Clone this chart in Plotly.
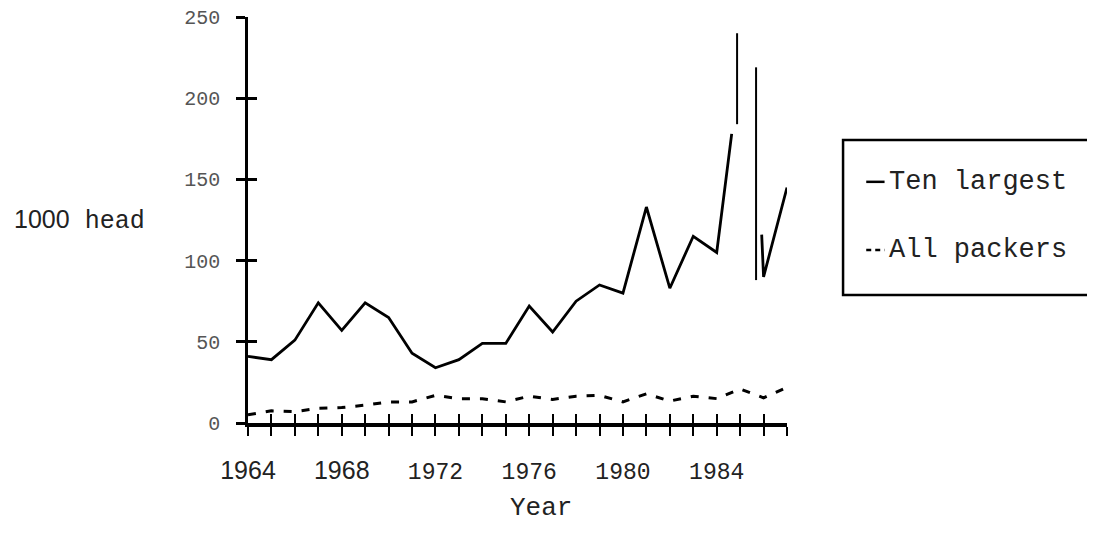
import plotly.graph_objects as go

# ---------------- data ----------------
years = list(range(1964, 1988))
series_names = ["Ten largest", "All packers"]

# Ten largest packers (1000 head); the original trace is broken near 1985
ten_largest_x = [1964, 1965, 1966, 1967, 1968, 1969, 1970, 1971, 1972, 1973,
                 1974, 1975, 1976, 1977, 1978, 1979, 1980, 1981, 1982, 1983,
                 1984, 1984.64, None, 1985.92, 1986, 1987]
ten_largest_y = [41, 39, 51, 74, 57, 74, 65, 43, 34, 39,
                 49, 49, 72, 56, 75, 85, 80, 133, 83, 115,
                 105, 178, None, 116, 90, 145]

# All packers (1000 head)
all_packers = [5, 7.5, 7, 9, 9.5, 11, 13, 13, 17, 15,
               15, 13, 16.5, 14.5, 16.5, 17, 13, 18, 13.5, 16.5,
               15, 21, 15.5, 22]

# vertical strokes visible in the scanned original near 1985
scan_x = [1984.87, 1984.87, None, 1985.68, 1985.68]
scan_y = [240, 184, None, 219, 88]

x_label_years = [1964, 1968, 1972, 1976, 1980, 1984]
sans_label_years = [1964, 1968]
y_ticks = [0, 50, 100, 150, 200, 250]
y_title_num = "1000"
y_title_unit = "head"
x_title = "Year"

# ---------------- styling ----------------
MONO = "Liberation Mono"
SANS = "Liberation Sans"

def xlabel(y):
    if y in sans_label_years:
        return f'<span style="font-family:{SANS};font-size:25px">{y}</span>'
    if y in x_label_years:
        return str(y)
    return ""

fig = go.Figure()

fig.add_trace(go.Scatter(
    x=ten_largest_x, y=ten_largest_y, mode="lines", name=series_names[0],
    line=dict(color="black", width=2.8), connectgaps=False, showlegend=False))
fig.add_trace(go.Scatter(
    x=years, y=all_packers, mode="lines", name=series_names[1],
    line=dict(color="black", width=3, dash="8px,10px"), showlegend=False))
fig.add_trace(go.Scatter(
    x=scan_x, y=scan_y, mode="lines", line=dict(color="black", width=2),
    connectgaps=False, showlegend=False, hoverinfo="skip"))
# carrier for the overlaid (inside-tick) axes
fig.add_trace(go.Scatter(
    x=[years[0]], y=[0], xaxis="x2", yaxis="y2", mode="lines",
    line=dict(width=0), showlegend=False, hoverinfo="skip"))

xr = [years[0], years[-1]]
yr = [0, 250]

fig.update_layout(
    width=1095, height=534,
    margin=dict(l=240, r=316, t=9, b=119),
    paper_bgcolor="white", plot_bgcolor="white",
    showlegend=False,
    xaxis=dict(range=xr, showgrid=False, zeroline=False, automargin=False,
               showline=True, linecolor="black", linewidth=3.5,
               ticks="outside", ticklen=9, tickwidth=2, tickcolor="black",
               tickmode="array", tickvals=years,
               ticktext=[xlabel(y) for y in years],
               ticklabelstandoff=16, ticklabeloverflow="allow",
               tickfont=dict(family=MONO, size=23, color="#222")),
    xaxis2=dict(range=xr, overlaying="x", anchor="y", showgrid=False,
                zeroline=False, showline=False, automargin=False,
                ticks="inside", ticklen=9, tickwidth=2, tickcolor="black",
                tickmode="array", tickvals=years, showticklabels=False),
    yaxis=dict(range=yr, showgrid=False, zeroline=False, automargin=False,
               showline=True, linecolor="black", linewidth=2.5,
               ticks="outside", ticklen=9, tickwidth=2.5, tickcolor="black",
               tickmode="array", tickvals=y_ticks,
               ticktext=[str(v) for v in y_ticks],
               ticklabelstandoff=12, ticklabeloverflow="allow",
               tickfont=dict(family=MONO, size=20, color="#555")),
    yaxis2=dict(range=yr, overlaying="y", anchor="x", showgrid=False,
                zeroline=False, showline=False, automargin=False,
                ticks="inside", ticklen=9, tickwidth=2.5, tickcolor="black",
                tickmode="array", tickvals=y_ticks, showticklabels=False),
)

# axis titles
fig.add_annotation(
    xref="paper", yref="paper", x=0.5436, y=-0.21, xanchor="center",
    yanchor="middle", showarrow=False, text=x_title,
    font=dict(family=MONO, size=26, color="#222"))
fig.add_annotation(
    xref="paper", yref="paper", x=-0.438, y=0.5, xanchor="left",
    yanchor="middle", showarrow=False,
    text=f'<span style="font-family:{SANS};font-size:25px">{y_title_num}</span> {y_title_unit}',
    font=dict(family=MONO, size=25, color="#222"))

# legend box (extends beyond the right edge like the original)
fig.add_shape(type="rect", xref="paper", yref="paper",
              x0=1.104, x1=1.62, y0=0.315, y1=0.697,
              line=dict(color="black", width=2.5), fillcolor="rgba(0,0,0,0)")
leg_rows = [0.594, 0.426]
leg_dash = ["solid", "5px,4px"]
for name, yy, dsh in zip(series_names, leg_rows, leg_dash):
    fig.add_shape(type="line", xref="paper", yref="paper",
                  x0=1.147, x1=1.181, y0=yy, y1=yy,
                  line=dict(color="black", width=2.5, dash=dsh))
    fig.add_annotation(xref="paper", yref="paper", x=1.186, y=yy,
                       xanchor="left", yanchor="middle", showarrow=False,
                       text=name, font=dict(family=MONO, size=27, color="#222"))

fig.write_html("out.html")
